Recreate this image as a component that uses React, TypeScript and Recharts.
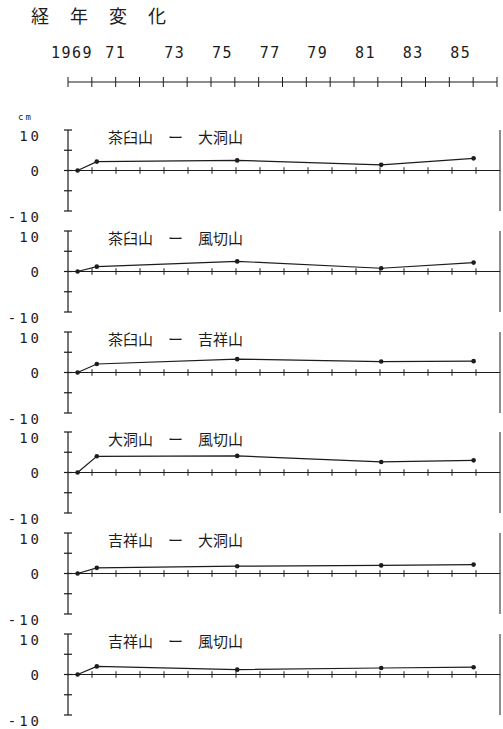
import { Line, LineChart, ReferenceLine, XAxis, YAxis } from 'recharts';

// survey epochs (fractional years) shared by all six baselines
const surveyYears = [1969.4, 1970.2, 1976.05, 1982.05, 1985.9];

const pairTitles = [
  '茶臼山　ー　大洞山',
  '茶臼山　ー　風切山',
  '茶臼山　ー　吉祥山',
  '大洞山　ー　風切山',
  '吉祥山　ー　大洞山',
  '吉祥山　ー　風切山',
];

// change in baseline length, cm
const chausuOhora = [0, 2.2, 2.5, 1.4, 3.0];
const chausuKazakiri = [0, 1.2, 2.5, 0.8, 2.2];
const chausuKisshou = [0, 2.1, 3.3, 2.7, 2.8];
const ohoraKazakiri = [0, 4.0, 4.1, 2.6, 3.0];
const kisshouOhora = [0, 1.4, 1.8, 2.0, 2.2];
const kisshouKazakiri = [0, 2.0, 1.2, 1.6, 1.8];

const pairValues = [chausuOhora, chausuKazakiri, chausuKisshou, ohoraKazakiri, kisshouOhora, kisshouKazakiri];

const yearTicks = [
  1969, 1970, 1971, 1972, 1973, 1974, 1975, 1976, 1977, 1978, 1979, 1980, 1981, 1982, 1983, 1984, 1985,
  1986, 1987,
];
const labelYears = [1969, 1971, 1973, 1975, 1977, 1979, 1981, 1983, 1985];
const labelTexts = ['1969', '71', '73', '75', '77', '79', '81', '83', '85'];

const cmTicks = [10, 5, 0, -5, -10];

const INK = '#1c1c1c';
const MONO = '"DejaVu Sans Mono", monospace';
const CJK = '"Noto Sans CJK JP", "Noto Sans CJK SC", sans-serif';

function YearTick(props: any) {
  const { x, y, payload } = props;
  const idx = labelYears.indexOf(payload.value);
  let anchor = 'start';
  let dx = 1;
  if (payload.value === 1969) {
    anchor = 'middle';
    dx = 4;
  } else if (payload.value === 1971) {
    anchor = 'middle';
    dx = 0;
  }
  return (
    <g>
      <line x1={x} x2={x} y1={y - 5} y2={y + 5} stroke={INK} strokeWidth={1} />
      {idx >= 0 && (
        <text
          x={x + dx}
          y={y - 24}
          textAnchor={anchor}
          fontFamily={MONO}
          fontSize={15}
          letterSpacing={1.5}
          fill={INK}
        >
          {labelTexts[idx]}
        </text>
      )}
    </g>
  );
}

function CmTick(props: any) {
  const { x, y, payload } = props;
  const v = payload.value;
  return (
    <g>
      <line x1={x - 4} x2={x + 4} y1={y} y2={y} stroke={INK} strokeWidth={1.2} />
      {v % 10 === 0 && (
        <text
          x={x - 26}
          y={v === 0 ? y + 5 : y + 11}
          textAnchor="end"
          fontFamily={MONO}
          fontSize={14}
          letterSpacing={3}
          fill={INK}
        >
          {String(v)}
        </text>
      )}
    </g>
  );
}

function BracketTick(props: any) {
  const { x, y, payload } = props;
  const major = payload.value % 10 === 0;
  return <line x1={x - 3} x2={x + (major ? 2 : 0)} y1={y} y2={y} stroke={INK} strokeWidth={1} />;
}

function SurveyDot(props: any) {
  const { cx, cy } = props;
  return <circle cx={cx} cy={cy} r={2.3} fill={INK} />;
}

function Panel({ title, values, index }: { title: string; values: number[]; index: number }) {
  const data = surveyYears.map((year, i) => ({ year, value: values[i] }));
  const top = 112 + index * 100.8;
  return (
    <div style={{ position: 'absolute', left: 0, top, width: 503, height: 120 }}>
      <LineChart width={503} height={120} data={data} margin={{ top: 18, right: 0, bottom: 21, left: 0 }}>
        <XAxis type="number" dataKey="year" domain={[1969, 1987]} hide />
        <YAxis
          yAxisId="l"
          type="number"
          domain={[-10, 10]}
          ticks={cmTicks}
          interval={0}
          width={68}
          tickLine={false}
          tickSize={0}
          tickMargin={0}
          axisLine={{ stroke: INK, strokeWidth: 1.2 }}
          tick={<CmTick />}
        />
        <YAxis
          yAxisId="r"
          orientation="right"
          type="number"
          domain={[-10, 10]}
          ticks={cmTicks}
          interval={0}
          width={3}
          tickLine={false}
          tickSize={0}
          tickMargin={0}
          axisLine={{ stroke: INK, strokeWidth: 1 }}
          tick={<BracketTick />}
        />
        <ReferenceLine yAxisId="l" y={0} stroke={INK} strokeWidth={1} />
        {yearTicks.slice(1, -1).map((yr) => (
          <ReferenceLine
            key={yr}
            yAxisId="l"
            segment={[
              { x: yr, y: -0.8 },
              { x: yr, y: 0.8 },
            ]}
            stroke={INK}
            strokeWidth={1}
          />
        ))}
        <Line
          yAxisId="l"
          type="linear"
          dataKey="value"
          stroke={INK}
          strokeWidth={1.2}
          dot={<SurveyDot />}
          activeDot={false}
          isAnimationActive={false}
        />
      </LineChart>
      <div
        style={{
          position: 'absolute',
          left: 108,
          top: 17,
          fontFamily: CJK,
          fontSize: 15,
          lineHeight: 1,
          color: INK,
          whiteSpace: 'pre',
        }}
      >
        {title}
      </div>
    </div>
  );
}

export default function App() {
  const axisData = yearTicks.map((year) => ({ year }));
  return (
    <div style={{ position: 'absolute', left: 0, top: 0, width: 503, height: 729, background: '#fff' }}>
      <div
        style={{
          position: 'absolute',
          left: 31,
          top: 6,
          fontFamily: CJK,
          fontSize: 18,
          lineHeight: 1,
          letterSpacing: 21,
          color: INK,
        }}
      >
        経年変化
      </div>
      <div style={{ position: 'absolute', left: 0, top: 0 }}>
        <LineChart width={503} height={120} data={axisData} margin={{ top: 0, right: 6, bottom: 0, left: 68 }}>
          <XAxis
            type="number"
            dataKey="year"
            domain={[1969, 1987]}
            ticks={yearTicks}
            interval={0}
            height={38}
            tickLine={false}
            tickSize={0}
            tickMargin={0}
            axisLine={{ stroke: INK, strokeWidth: 1.2 }}
            tick={<YearTick />}
          />
          <YAxis hide domain={[0, 1]} />
        </LineChart>
      </div>
      <div
        style={{
          position: 'absolute',
          left: 18,
          top: 113,
          fontFamily: MONO,
          fontSize: 9,
          letterSpacing: 2,
          lineHeight: 1,
          color: INK,
        }}
      >
        cm
      </div>
      {pairTitles.map((title, i) => (
        <Panel key={title} title={title} values={pairValues[i]} index={i} />
      ))}
    </div>
  );
}
